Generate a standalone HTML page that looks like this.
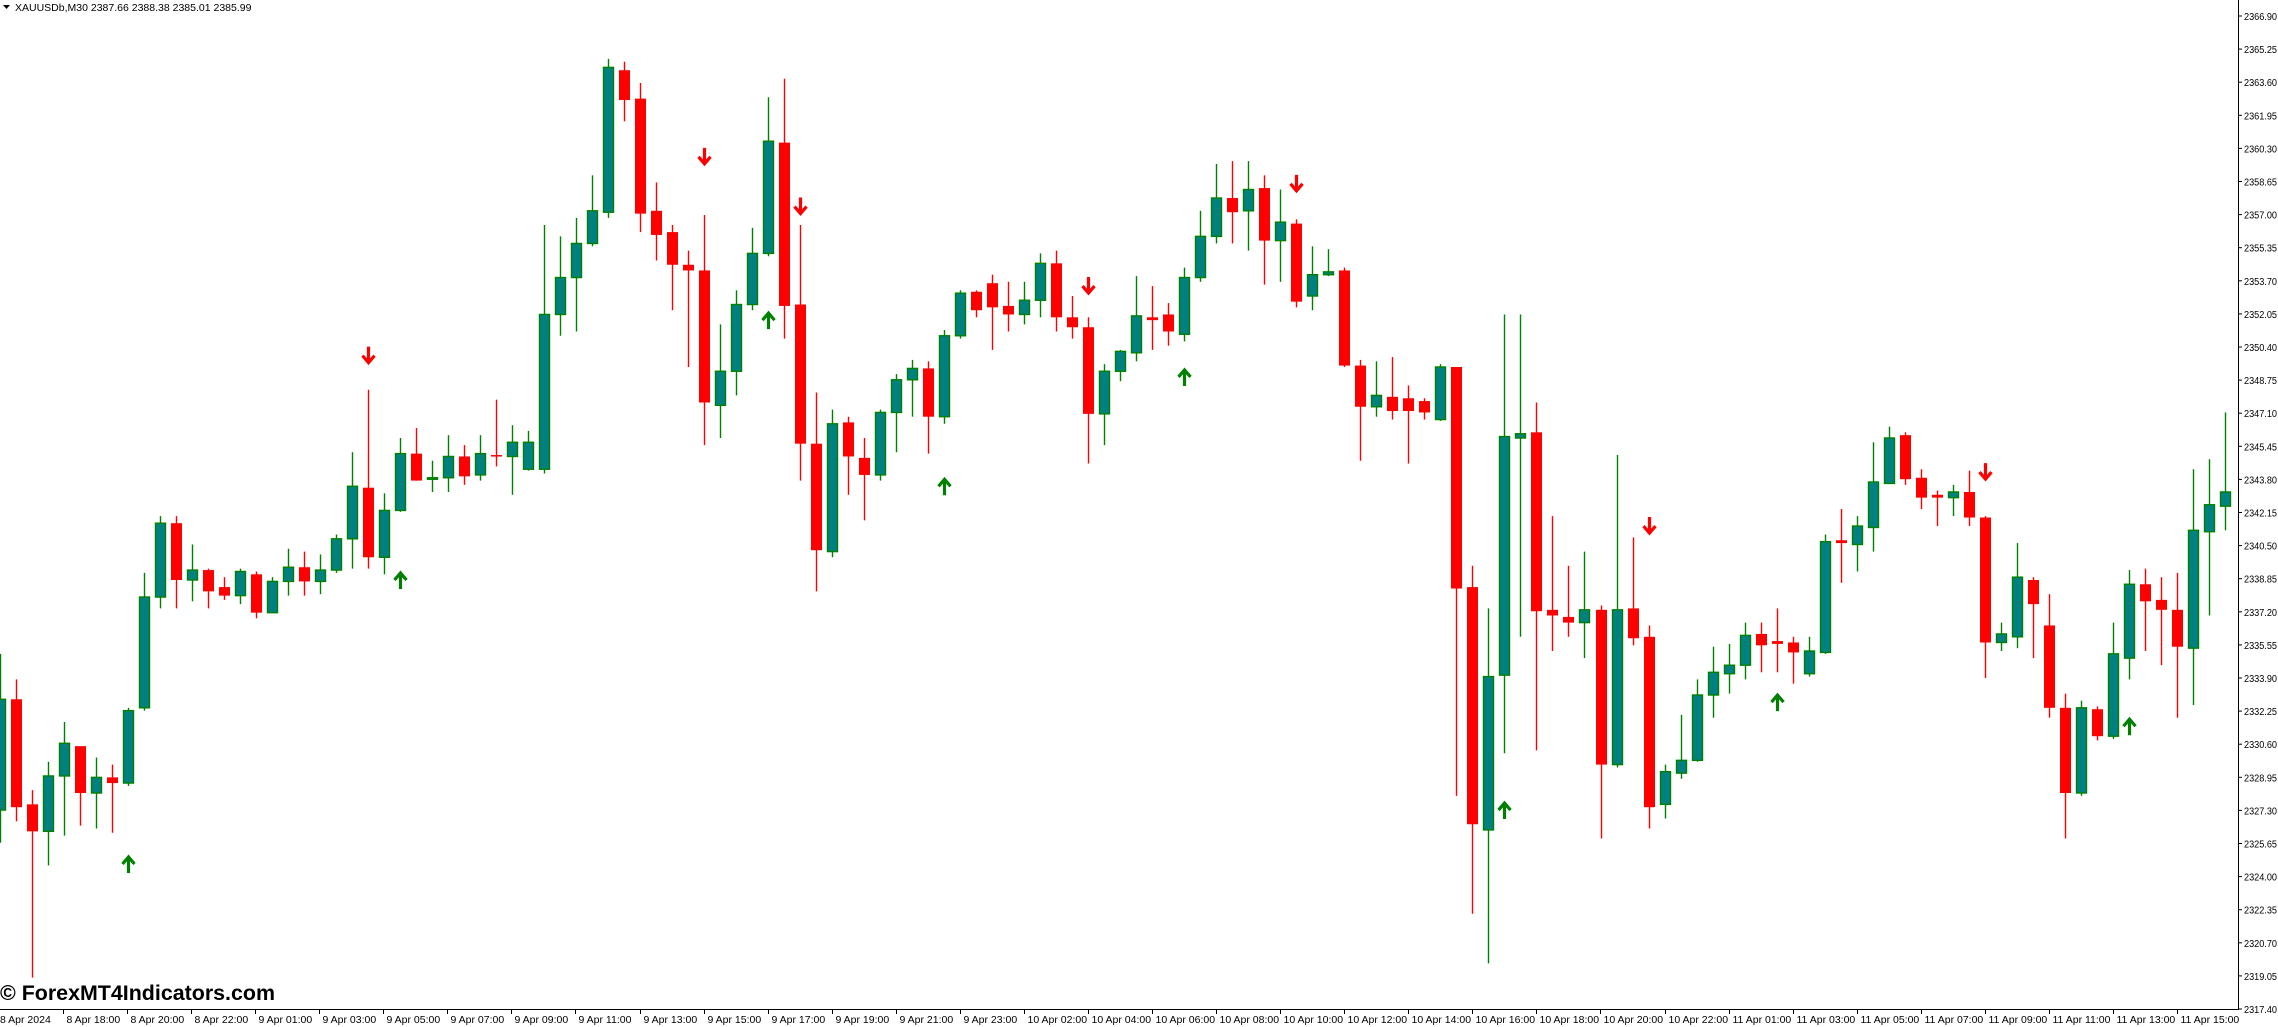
<!DOCTYPE html>
<html><head><meta charset="utf-8"><style>
html,body{margin:0;padding:0;background:#fff;}
svg{display:block;}
text{font-family:"Liberation Sans",sans-serif;}
</style></head><body>
<svg id="s" width="2278" height="1027" viewBox="0 0 2278 1027" xmlns="http://www.w3.org/2000/svg">
<rect width="2278" height="1027" fill="#fff"/>
<g id="c"></g>
<line x1="2238.5" y1="0" x2="2238.5" y2="1009" stroke="#000" stroke-width="1"/>
<line x1="0" y1="1009.5" x2="2239" y2="1009.5" stroke="#000" stroke-width="1"/>
<g id="ax"></g>
<path d="M3,5 L10,5 L6.5,9 Z" fill="#000"/>
<text x="15" y="11" font-size="10.5" fill="#000">XAUUSDb,M30  2387.66 2388.38 2385.01 2385.99</text>
<text x="0" y="1000" font-size="21" font-weight="bold" fill="#000" textLength="275" lengthAdjust="spacingAndGlyphs">© ForexMT4Indicators.com</text>
</svg>
<script>
var d=[
[484,562,452,585,'t'],[484,560,470,570,'r'],[558,577,548,680,'r'],[577,538,528,601,'t'],[538,515,500,580,'t'],
[517,550,518,573,'r'],[550,539,525,575,'t'],[539,543,530,578,'r'],[543,492,490,545,'t'],[490,412,395,492,'t'],
[412,360,355,420,'t'],[360,400,355,420,'r'],[400,393,375,415,'t'],[393,408,392,420,'r'],[405,411,398,414,'r'],
[411,394,392,417,'t'],[396,423,394,427,'r'],[423,401,398,422,'t'],[401,391,378,411,'t'],[391,401,380,411,'r'],
[401,393,382,410,'t'],[393,371,368,395,'t'],[371,334,310,392,'t'],[335,384,266,392,'r'],[384,351,339,396,'t'],
[351,311,300,352,'t'],[311,330,293,330,'r'],[329,328,316,338,'t'],[328,313,298,338,'t'],[313,327,305,333,'r'],
[326,311,298,330,'t'],[312,313,273,320,'r'],[313,303,291,340,'t'],[322,303,295,323,'t'],[322,213,150,325,'t'],
[213,187,158,228,'t'],[187,163,145,225,'t'],[163,140,115,165,'t'],[141,39,33,145,'t'],[41,62,35,77,'r'],
[61,142,50,155,'r'],[140,157,120,175,'r'],[155,178,150,210,'r'],[178,182,168,250,'r'],[182,275,143,305,'r'],
[277,253,220,300,'t'],[253,206,196,270,'t'],[206,170,152,210,'t'],[170,91,60,172,'t'],[92,207,47,230,'r'],
[206,304,150,330,'r'],[304,379,268,408,'r'],[380,290,280,384,'t'],[289,313,285,340,'r'],[314,326,300,358,'r'],
[326,282,280,330,'t'],[282,259,255,310,'t'],[259,251,245,285,'t'],[251,285,246,311,'r'],[285,228,224,290,'t'],
[228,198,196,230,'t'],[197,210,196,215,'r'],[191,208,185,238,'r'],[207,213,190,225,'r'],[213,203,190,220,'t'],
[203,177,170,215,'t'],[177,215,168,225,'r'],[215,222,200,230,'r'],[222,283,215,318,'r'],[283,253,248,305,'t'],
[253,239,238,260,'t'],[240,214,186,246,'t'],[215,217,193,238,'r'],[213,225,205,235,'r'],[227,187,180,232,'t'],
[187,158,140,190,'t'],[158,131,107,163,'t'],[131,141,105,163,'r'],[140,125,105,168,'t'],[124,161,115,192,'r'],
[161,148,125,190,'t'],[149,204,146,208,'r'],[200,185,165,210,'t'],[185,183,167,186,'t'],[182,249,180,250,'r'],
[249,278,245,316,'r'],[278,270,246,285,'t'],[271,281,243,287,'r'],[272,281,263,318,'r'],[274,282,272,287,'r'],
[287,250,248,288,'t'],[250,406,250,552,'r'],[405,572,390,635,'r'],[576,468,420,670,'t'],[467,299,213,522,'t'],
[300,297,213,440,'t'],[296,422,275,520,'r'],[421,425,355,450,'r'],[426,430,390,440,'r'],[430,421,380,455,'t'],
[421,530,418,582,'r'],[530,421,312,532,'t'],[420,441,370,446,'r'],[440,560,432,575,'r'],[558,535,530,568,'t'],
[536,527,495,540,'t'],[527,481,470,528,'t'],[481,465,447,497,'t'],[466,460,445,480,'t'],[460,439,430,470,'t'],
[438,446,430,465,'r'],[443,445,420,465,'r'],[444,451,440,473,'r'],[466,450,440,468,'t'],[451,373,368,452,'t'],
[372,374,350,402,'r'],[375,362,355,394,'t'],[363,331,303,380,'t'],[332,300,292,332,'t'],[298,329,296,333,'r'],
[328,342,322,350,'r'],[340,342,337,362,'r'],[342,338,333,355,'t'],[338,356,323,362,'r'],[356,444,355,469,'r'],
[444,438,430,450,'t'],[440,398,374,448,'t'],[400,417,398,455,'r'],[432,490,410,497,'r'],[490,550,480,582,'r'],
[550,490,485,552,'t'],[491,510,489,513,'r'],[510,452,430,512,'t'],[455,403,393,470,'t'],[403,415,392,450,'r'],
[414,421,398,460,'r'],[421,447,395,497,'r'],[448,365,322,488,'t'],[366,347,315,425,'t'],[348,338,282,365,'t']
];
function Y(p){return p*1.42+12;}
function X(n){return 16.01*n-0.5;}
var h='';
d.forEach(function(c,n){
 var x=X(n),o=Y(c[0]),cl=Y(c[1]),hi=Y(c[2]),lo=Y(c[3]);
 var top=Math.min(o,cl),bot=Math.max(o,cl);if(bot-top<1.5)bot=top+1.5;
 var xr=Math.round(x)+0.5;
 if(c[4]=='t'){
  h+='<line x1="'+xr+'" y1="'+hi+'" x2="'+xr+'" y2="'+lo+'" stroke="#008000" stroke-width="1.4"/>';
  h+='<rect x="'+(xr-5)+'" y="'+top+'" width="10" height="'+(bot-top)+'" fill="#008080" stroke="#008000" stroke-width="1.4"/>';
 }else{
  h+='<line x1="'+xr+'" y1="'+hi+'" x2="'+xr+'" y2="'+lo+'" stroke="#ff0000" stroke-width="1.4"/>';
  h+='<rect x="'+(xr-5.5)+'" y="'+top+'" width="11" height="'+(bot-top)+'" fill="#ff0000"/>';
 }
});
var ups=[[87,600],[274,400],[528,217],[650,334],[815,257],[1035,562],[1221,486],[1464,503]];
var dns=[[252,242],[484,102],[549,137],[748,193],[891,121],[1133,362],[1364,324]];
function arr(px,py,up,col){
 var n=Math.round(px/10.99),x=Math.round(X(n))+0.5,y=Y(py);
 if(up){h+='<path d="M'+x+','+(y+9)+' L'+x+','+(y-6)+' M'+(x-6)+','+(y)+' L'+x+','+(y-7)+' L'+(x+6)+','+y+'" fill="none" stroke="'+col+'" stroke-width="3.2"/>';}
 else{h+='<path d="M'+x+','+(y-9)+' L'+x+','+(y+6)+' M'+(x-6)+','+(y)+' L'+x+','+(y+7)+' L'+(x+6)+','+y+'" fill="none" stroke="'+col+'" stroke-width="3.2"/>';}
}
ups.forEach(function(a){arr(a[0],a[1],true,'#008000');});
dns.forEach(function(a){arr(a[0],a[1],false,'#ff0000');});
document.getElementById('c').innerHTML=h;
var a='';
for(var i=0;i<=30;i++){
 var p=2366.90-1.65*i,y=16+i*33.1;
 a+='<line x1="2238" y1="'+y+'" x2="2242" y2="'+y+'" stroke="#000"/>';
 a+='<text x="2244" y="'+(y+4)+'" font-size="10" fill="#000" textLength="33" lengthAdjust="spacingAndGlyphs">'+p.toFixed(2)+'</text>';
}
var labs=['8 Apr 18:00','8 Apr 20:00','8 Apr 22:00','9 Apr 01:00','9 Apr 03:00','9 Apr 05:00','9 Apr 07:00','9 Apr 09:00','9 Apr 11:00','9 Apr 13:00','9 Apr 15:00','9 Apr 17:00','9 Apr 19:00','9 Apr 21:00','9 Apr 23:00','10 Apr 02:00','10 Apr 04:00','10 Apr 06:00','10 Apr 08:00','10 Apr 10:00','10 Apr 12:00','10 Apr 14:00','10 Apr 16:00','10 Apr 18:00','10 Apr 20:00','10 Apr 22:00','11 Apr 01:00','11 Apr 03:00','11 Apr 05:00','11 Apr 07:00','11 Apr 09:00','11 Apr 11:00','11 Apr 13:00','11 Apr 15:00'];
a+='<text x="0" y="1023" font-size="10.5" fill="#000">8 Apr 2024</text>';
labs.forEach(function(l,i){
 var x=Math.round(63+64.06*i)+0.5;
 a+='<line x1="'+x+'" y1="1009" x2="'+x+'" y2="1014" stroke="#000"/>';
 a+='<text x="'+(x+3)+'" y="1023" font-size="10.5" fill="#000">'+l+'</text>';
});
document.getElementById('ax').innerHTML=a;
</script>
</body></html>
